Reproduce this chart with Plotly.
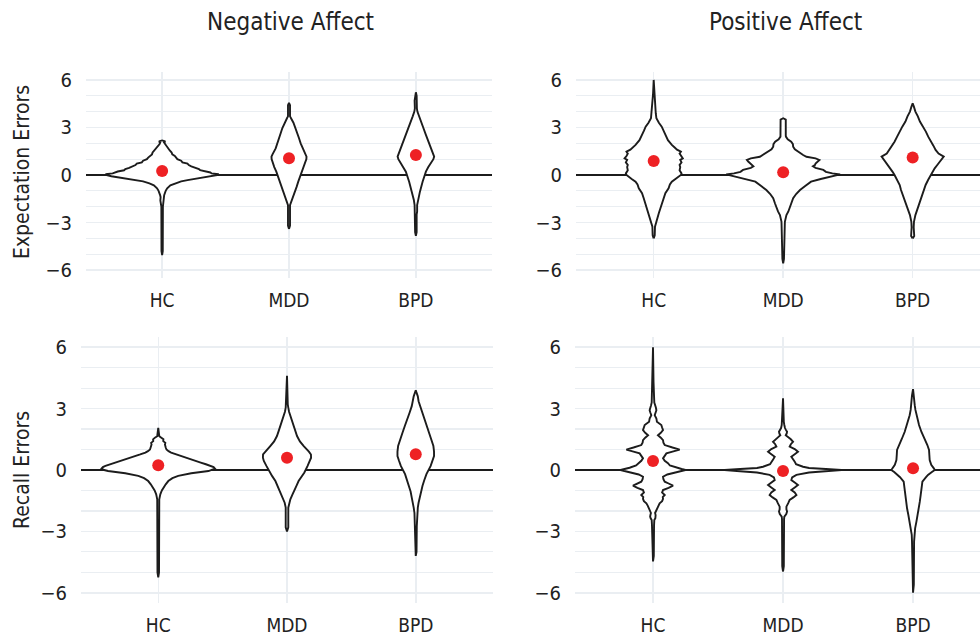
import plotly.graph_objects as go

# ---------------- data ----------------
categories = ["HC", "MDD", "BPD"]
ytick_vals = [-6, -3, 0, 3, 6]
ytick_text = ["\u22126", "\u22123", "0", "3", "6"]
col_titles = ["Negative Affect", "Positive Affect"]
row_titles = ["Expectation Errors", "Recall Errors"]

# group means (red dots)
neg_exp_means = [0.25, 1.05, 1.26]
pos_exp_means = [0.88, 0.17, 1.10]
neg_rec_means = [0.23, 0.60, 0.77]
pos_rec_means = [0.44, -0.05, 0.08]

# violin density profiles: y level and half-width (in category units)
neg_exp_hc_y = [-5.05, -4.8, -2.0, -1.8, -1.6, -1.4, -1.27, -1.0, -0.84, -0.65, -0.53, -0.4, -0.32, -0.17, -0.08, 0.0, 0.06, 0.1, 0.16, 0.22, 0.3, 0.38, 0.45, 0.55, 0.63, 0.72, 0.8, 0.9, 1.0, 1.1, 1.2, 1.3, 1.42, 1.55, 1.65, 1.75, 1.85, 1.95, 2.05, 2.12, 2.18]
neg_exp_hc_w = [0, 0.005, 0.006, 0.01, 0.014, 0.012, 0.016, 0.028, 0.04, 0.065, 0.1, 0.15, 0.2, 0.32, 0.4, 0.44, 0.44, 0.39, 0.38, 0.35, 0.3, 0.29, 0.26, 0.23, 0.21, 0.2, 0.16, 0.15, 0.12, 0.11, 0.1, 0.08, 0.075, 0.06, 0.05, 0.045, 0.03, 0.02, 0.015, 0.025, 0.0]

neg_exp_mdd_y = [-3.4, -3.2, -1.9, -1.75, -1.58, -1.3, -1.05, -0.75, -0.42, -0.1, 0.21, 0.5, 0.84, 1.0, 1.16, 1.3, 1.68, 2.0, 2.32, 2.65, 2.95, 3.3, 3.58, 3.7, 4.4, 4.55]
neg_exp_mdd_w = [0, 0.008, 0.008, 0.015, 0.026, 0.036, 0.047, 0.06, 0.073, 0.087, 0.1, 0.116, 0.132, 0.137, 0.138, 0.13, 0.105, 0.092, 0.079, 0.065, 0.053, 0.035, 0.016, 0.008, 0.008, 0]

neg_exp_bpd_y = [-3.83, -3.6, -2.5, -2.3, -1.9, -1.58, -1.3, -1.05, -0.42, 0.21, 0.5, 0.74, 1.0, 1.16, 1.3, 1.68, 2.1, 2.53, 2.95, 3.37, 3.7, 4.0, 4.2, 4.7, 5.0, 5.22]
neg_exp_bpd_w = [0, 0.006, 0.006, 0.01, 0.01, 0.016, 0.024, 0.032, 0.053, 0.079, 0.098, 0.118, 0.138, 0.144, 0.138, 0.118, 0.098, 0.079, 0.06, 0.04, 0.025, 0.012, 0.008, 0.01, 0.006, 0]

pos_exp_hc_y = [-4.0, -3.8, -3.26, -3.0, -2.74, -2.4, -2.1, -1.8, -1.47, -1.15, -0.84, -0.6, -0.42, -0.25, -0.1, 0.0, 0.1, 0.3, 0.5, 0.63, 0.8, 0.95, 1.05, 1.2, 1.35, 1.47, 1.6, 1.75, 1.9, 2.2, 2.53, 2.8, 3.05, 3.3, 3.58, 3.9, 4.2, 4.8, 5.1, 6.0]
pos_exp_hc_w = [0, 0.008, 0.01, 0.018, 0.025, 0.04, 0.052, 0.065, 0.077, 0.09, 0.115, 0.125, 0.14, 0.17, 0.19, 0.21, 0.215, 0.2, 0.205, 0.2, 0.215, 0.205, 0.225, 0.21, 0.2, 0.21, 0.18, 0.16, 0.14, 0.11, 0.09, 0.075, 0.062, 0.04, 0.021, 0.016, 0.013, 0.008, 0.005, 0]

pos_exp_mdd_y = [-5.58, -5.3, -2.95, -2.75, -2.53, -2.3, -2.1, -1.8, -1.47, -1.2, -0.95, -0.7, -0.42, -0.25, -0.1, 0.0, 0.04, 0.1, 0.2, 0.32, 0.45, 0.55, 0.63, 0.72, 0.85, 0.95, 1.05, 1.15, 1.26, 1.45, 1.62, 1.79, 1.95, 2.1, 2.25, 2.42, 2.5, 3.5, 3.58]
pos_exp_mdd_w = [0, 0.006, 0.013, 0.018, 0.025, 0.04, 0.05, 0.063, 0.077, 0.1, 0.13, 0.17, 0.215, 0.29, 0.36, 0.42, 0.44, 0.38, 0.33, 0.31, 0.25, 0.23, 0.245, 0.25, 0.27, 0.28, 0.25, 0.18, 0.154, 0.125, 0.09, 0.077, 0.075, 0.062, 0.035, 0.021, 0.02, 0.02, 0]

pos_exp_bpd_y = [-4.0, -3.85, -3.3, -2.95, -2.53, -2.2, -1.9, -1.55, -1.26, -0.95, -0.63, -0.3, 0.0, 0.2, 0.42, 0.63, 0.84, 1.0, 1.16, 1.35, 1.58, 1.85, 2.1, 2.42, 2.74, 3.05, 3.37, 3.7, 4.0, 4.3, 4.53]
pos_exp_bpd_w = [0, 0.012, 0.008, 0.01, 0.021, 0.035, 0.046, 0.062, 0.077, 0.09, 0.1, 0.12, 0.14, 0.155, 0.17, 0.19, 0.21, 0.225, 0.24, 0.2, 0.177, 0.16, 0.14, 0.12, 0.102, 0.08, 0.056, 0.04, 0.021, 0.01, 0]

neg_rec_hc_y = [-5.25, -5.0, -1.43, -1.3, -1.19, -1.0, -0.86, -0.7, -0.54, -0.4, -0.29, -0.16, -0.05, 0.0, 0.07, 0.14, 0.2, 0.28, 0.36, 0.44, 0.52, 0.6, 0.68, 0.76, 0.85, 0.92, 1.0, 1.1, 1.25, 1.33, 1.41, 1.5, 1.58, 1.65, 2.06]
neg_rec_hc_w = [0, 0.006, 0.008, 0.012, 0.016, 0.028, 0.039, 0.058, 0.078, 0.11, 0.155, 0.256, 0.39, 0.42, 0.44, 0.43, 0.41, 0.37, 0.33, 0.29, 0.256, 0.22, 0.18, 0.14, 0.1, 0.08, 0.064, 0.058, 0.052, 0.055, 0.039, 0.04, 0.026, 0.008, 0]

neg_rec_mdd_y = [-3.0, -2.8, -1.84, -1.6, -1.43, -1.2, -1.02, -0.75, -0.54, -0.3, -0.13, 0.2, 0.44, 0.6, 0.76, 0.9, 1.17, 1.4, 1.66, 1.9, 2.15, 2.4, 2.63, 2.85, 3.05, 3.2, 4.6]
neg_rec_mdd_w = [0, 0.01, 0.01, 0.018, 0.026, 0.042, 0.057, 0.075, 0.09, 0.115, 0.134, 0.16, 0.18, 0.187, 0.186, 0.17, 0.13, 0.1, 0.078, 0.065, 0.052, 0.038, 0.026, 0.016, 0.01, 0.006, 0]

neg_rec_bpd_y = [-4.2, -4.0, -2.75, -2.1, -1.84, -1.6, -1.35, -1.05, -0.78, -0.5, -0.2, 0.2, 0.45, 0.68, 0.9, 1.17, 1.5, 1.82, 2.15, 2.47, 2.8, 3.12, 3.36, 3.6, 3.9]
neg_rec_bpd_w = [0, 0.006, 0.008, 0.01, 0.016, 0.022, 0.031, 0.04, 0.052, 0.066, 0.083, 0.116, 0.13, 0.142, 0.142, 0.137, 0.12, 0.103, 0.085, 0.064, 0.048, 0.031, 0.022, 0.016, 0]

pos_rec_hc_y = [-4.47, -4.2, -2.7, -2.45, -2.36, -2.28, -2.2, -2.1, -2.0, -1.87, -1.75, -1.63, -1.52, -1.41, -1.32, -1.22, -1.1, -0.98, -0.87, -0.76, -0.66, -0.57, -0.45, -0.33, -0.22, -0.11, -0.05, 0.0, 0.05, 0.11, 0.22, 0.33, 0.45, 0.57, 0.69, 0.81, 0.9, 1.0, 1.1, 1.22, 1.34, 1.46, 1.58, 1.7, 1.82, 1.95, 2.08, 2.2, 2.36, 2.52, 2.68, 2.8, 2.92, 3.05, 3.17, 3.3, 3.6, 4.2, 4.3, 6.0]
pos_rec_hc_w = [0, 0.006, 0.008, 0.01, 0.018, 0.022, 0.02, 0.016, 0.024, 0.031, 0.04, 0.051, 0.07, 0.077, 0.075, 0.09, 0.07, 0.077, 0.12, 0.154, 0.12, 0.09, 0.08, 0.077, 0.11, 0.18, 0.22, 0.25, 0.22, 0.18, 0.13, 0.115, 0.09, 0.077, 0.09, 0.103, 0.15, 0.205, 0.15, 0.09, 0.08, 0.077, 0.06, 0.038, 0.06, 0.077, 0.07, 0.064, 0.03, 0.026, 0.013, 0.02, 0.026, 0.022, 0.015, 0.01, 0.008, 0.008, 0.004, 0]

pos_rec_mdd_y = [-4.96, -4.7, -2.4, -2.28, -2.15, -2.03, -1.92, -1.79, -1.62, -1.46, -1.34, -1.22, -1.1, -0.98, -0.86, -0.73, -0.61, -0.49, -0.36, -0.24, -0.12, -0.06, 0.0, 0.05, 0.1, 0.16, 0.28, 0.41, 0.53, 0.65, 0.77, 0.89, 1.02, 1.14, 1.26, 1.38, 1.5, 1.62, 1.7, 1.78, 1.87, 1.96, 2.05, 2.2, 2.35, 3.5]
pos_rec_mdd_w = [0, 0.006, 0.008, 0.01, 0.025, 0.031, 0.026, 0.026, 0.04, 0.051, 0.08, 0.103, 0.09, 0.064, 0.09, 0.115, 0.09, 0.064, 0.07, 0.103, 0.2, 0.33, 0.45, 0.33, 0.2, 0.154, 0.1, 0.09, 0.075, 0.064, 0.09, 0.115, 0.09, 0.051, 0.06, 0.077, 0.06, 0.035, 0.021, 0.028, 0.031, 0.022, 0.015, 0.01, 0.006, 0]

pos_rec_bpd_y = [-6.0, -5.6, -3.5, -3.17, -2.85, -2.52, -2.2, -1.87, -1.55, -1.22, -0.9, -0.57, -0.35, -0.24, -0.1, 0.0, 0.08, 0.25, 0.49, 0.75, 0.98, 1.22, 1.54, 1.87, 2.2, 2.68, 2.95, 3.17, 3.4, 3.65, 3.95]
pos_rec_bpd_w = [0, 0.006, 0.008, 0.01, 0.016, 0.026, 0.036, 0.046, 0.052, 0.059, 0.066, 0.072, 0.1, 0.115, 0.145, 0.167, 0.16, 0.14, 0.128, 0.125, 0.123, 0.11, 0.085, 0.064, 0.046, 0.026, 0.018, 0.013, 0.01, 0.008, 0]

panels = [
    # (axis suffix, profiles, means)
    ("", [(neg_exp_hc_y, neg_exp_hc_w), (neg_exp_mdd_y, neg_exp_mdd_w), (neg_exp_bpd_y, neg_exp_bpd_w)], neg_exp_means),
    ("2", [(pos_exp_hc_y, pos_exp_hc_w), (pos_exp_mdd_y, pos_exp_mdd_w), (pos_exp_bpd_y, pos_exp_bpd_w)], pos_exp_means),
    ("3", [(neg_rec_hc_y, neg_rec_hc_w), (neg_rec_mdd_y, neg_rec_mdd_w), (neg_rec_bpd_y, neg_rec_bpd_w)], neg_rec_means),
    ("4", [(pos_rec_hc_y, pos_rec_hc_w), (pos_rec_mdd_y, pos_rec_mdd_w), (pos_rec_bpd_y, pos_rec_bpd_w)], pos_rec_means),
]

# ---------------- styling ----------------
FONT = "Liberation Sans Narrow, DejaVu Sans Condensed, Roboto Condensed, Roboto, sans-serif"
INK = "#1c1c1c"
GRID = "#EAEEF2"
RED = "#EE2124"
TXT = "#222222"
W, H = 980, 637

fig = go.Figure()

for suffix, profiles, means in panels:
    xa, ya = "x" + suffix, "y" + suffix
    for i, (yy, ww) in enumerate(profiles):
        c = i + 1
        xs = [c + w for w in ww] + [c - w for w in reversed(ww)]
        ys = list(yy) + list(reversed(yy))
        fig.add_trace(go.Scatter(
            x=xs, y=ys, xaxis=xa, yaxis=ya, mode="lines",
            fill="toself", fillcolor="white",
            line=dict(color=INK, width=1.9, shape="linear"),
            hoverinfo="skip", showlegend=False))
    fig.add_trace(go.Scatter(
        x=[1, 2, 3], y=means, xaxis=xa, yaxis=ya, mode="markers",
        marker=dict(color=RED, size=12, line=dict(width=0)),
        showlegend=False))

def px_x(a, b):
    return [a / W, b / W]

def px_y(top, bottom):
    return [(H - bottom) / H, (H - top) / H]

xdom = {"": px_x(86, 492), "2": px_x(576, 980), "3": px_x(81, 493), "4": px_x(575, 980)}
xrng = {"": [0.4, 3.6], "2": [0.4, 3.52], "3": [0.4, 3.6], "4": [0.4, 3.515]}
ydom = {"": px_y(72, 278), "2": px_y(72, 278), "3": px_y(337, 603), "4": px_y(337, 603)}

layout = dict(
    width=W, height=H, margin=dict(l=0, r=0, t=0, b=0),
    paper_bgcolor="white", plot_bgcolor="white",
    template="none", showlegend=False,
    font=dict(family=FONT, size=19, color=TXT),
)
for s in ["", "2", "3", "4"]:
    layout["xaxis" + s] = dict(
        domain=xdom[s], range=xrng[s], anchor="y" + s,
        tickvals=[1, 2, 3], ticktext=categories,
        showgrid=True, gridcolor=GRID, gridwidth=1.5,
        zeroline=False, showline=False, ticks="",
        tickfont=dict(family=FONT, size=19, color=TXT),
        ticklabelstandoff=9, automargin=False, fixedrange=True,
    )
    layout["yaxis" + s] = dict(
        domain=ydom[s], range=[-6.5, 6.5], anchor="x" + s,
        tickvals=ytick_vals, ticktext=ytick_text,
        showgrid=True, gridcolor=GRID, gridwidth=1.5,
        minor=dict(dtick=1, tick0=0, showgrid=True, gridcolor=GRID, gridwidth=1.2),
        zeroline=True, zerolinecolor=INK, zerolinewidth=2,
        showline=False, ticks="",
        tickfont=dict(family=FONT, size=20, color=TXT),
        ticklabelstandoff=13, automargin=False, fixedrange=True,
    )

fig.update_layout(**layout)

annotations = [
    dict(text=col_titles[0], x=290 / W, y=(H - 22) / H),
    dict(text=col_titles[1], x=785 / W, y=(H - 22) / H),
]
for a in annotations:
    a.update(xref="paper", yref="paper", showarrow=False,
             font=dict(family=FONT, size=24, color=TXT),
             xanchor="center", yanchor="middle")
row_ann = [
    dict(text=row_titles[0], x=22 / W, y=(H - 172) / H),
    dict(text=row_titles[1], x=22 / W, y=(H - 470) / H),
]
for a in row_ann:
    a.update(xref="paper", yref="paper", showarrow=False, textangle=-90,
             font=dict(family=FONT, size=21, color=TXT),
             xanchor="center", yanchor="middle")
fig.update_layout(annotations=annotations + row_ann)

fig.write_html(
    "out.html",
    config={"displayModeBar": False, "staticPlot": True},
    post_script="document.body.style.margin='0';document.body.style.overflow='hidden';",
)
